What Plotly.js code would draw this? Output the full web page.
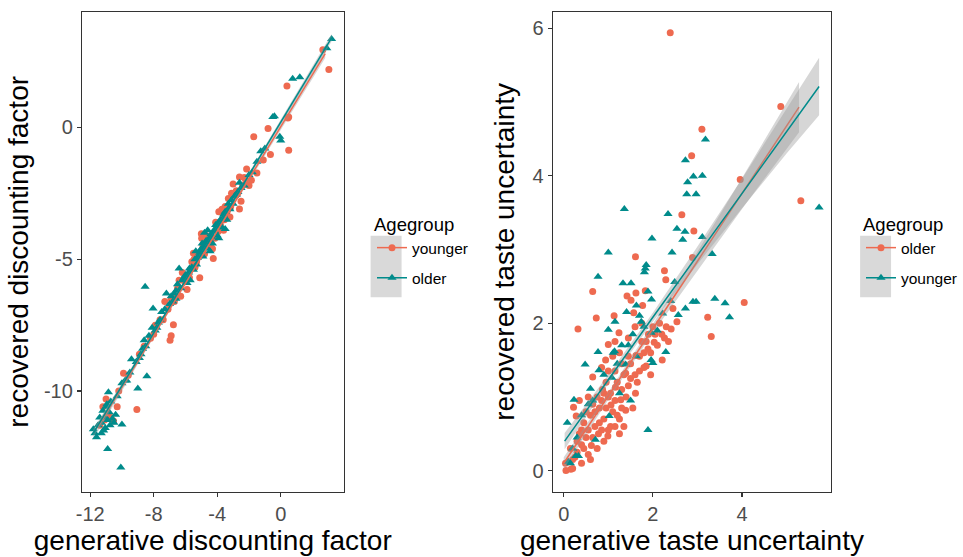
<!DOCTYPE html>
<html>
<head>
<meta charset="utf-8">
<script src="https://cdn.plot.ly/plotly-3.0.1.min.js"></script>
<style>html,body{margin:0;padding:0;background:#fff}#chart{width:963px;height:557px}</style>
</head>
<body>
<div id="chart"></div>
<script>
// ---------- DATA ----------
// Left panel: discounting factor (younger = salmon circles, older = teal triangles)
const leftYoungX = [-11.2,-11.0,-10.9,-10.7,-10.53,-11.1,-9.9,-9.06,-9.6,-8.9,-8.2,-7.9,-7.6,-7.3,-6.97,-6.9,-6.76,-6.9,-6.6,-6.4,-6.3,-6.2,-6.0,-5.9,-5.7,-5.5,-5.4,-5.1,-5.2,-5.0,-4.98,-4.8,-4.7,-4.5,-4.25,-4.3,-4.1,-4.0,-3.9,-3.8,-3.6,-3.5,-3.4,-3.3,-3.2,-3.0,-2.9,-2.8,-2.6,-2.6,-2.5,-2.4,-2.3,-2.15,-2.0,-1.85,-1.7,-1.5,-1.1,-0.8,-0.65,0.45,0.5,0.5,0.39,2.65,3.03,-3.7,-4.9,-5.6,-3.1,-6.5,-7.1,-8.6,-10.2,-11.4,-10.3,-6.7,-6.05,-5.75,-5.3,-4.6,-4.4,-3.95,-3.55,-3.15,-2.7,-2.2,-7.4,-8.0,-5.45,-4.15,-3.35];
const leftYoungY = [-10.6,-10.3,-10.9,-11.0,-11.14,-11.1,-9.33,-10.7,-9.4,-8.6,-8.0,-7.5,-7.3,-6.6,-8.07,-7.9,-7.49,-6.5,-6.4,-5.8,-6.4,-5.5,-5.7,-6.15,-5.4,-4.77,-5.3,-5.7,-4.8,-4.03,-4.2,-4.8,-4.1,-4.3,-4.97,-4.6,-3.6,-3.9,-3.2,-3.7,-3.9,-3.0,-3.3,-2.7,-3.4,-2.15,-2.6,-2.4,-1.88,-3.09,-2.8,-2.2,-1.9,-1.58,-2.2,-2.0,-0.35,-1.73,-1.24,-0.04,-1.03,0.36,0.4,-0.87,1.57,2.95,2.2,-3.1,-4.5,-5.1,-2.5,-6.1,-6.9,-8.3,-10.0,-11.3,-10.6,-6.6,-5.85,-5.7,-5.1,-4.45,-4.4,-3.95,-3.5,-3.0,-2.5,-2.0,-7.3,-7.85,-5.0,-4.2,-3.15];
const leftOldX = [-11.8,-11.7,-11.6,-11.5,-11.4,-11.3,-11.2,-11.1,-11.05,-11.0,-10.9,-10.85,-10.8,-10.75,-10.6,-10.5,-10.4,-10.0,-10.9,-10.07,-11.3,-11.15,-10.95,-10.3,-10.0,-9.7,-9.4,-9.0,-9.5,-9.1,-8.9,-8.6,-8.43,-8.7,-8.5,-8.3,-8.54,-8.04,-8.1,-7.9,-7.7,-7.5,-7.3,-7.2,-7.0,-6.9,-6.8,-6.6,-6.5,-6.4,-6.3,-6.2,-6.0,-5.9,-5.8,-5.6,-5.5,-5.4,-5.3,-5.2,-5.1,-5.0,-4.9,-4.8,-4.7,-4.6,-4.5,-4.4,-4.3,-4.2,-4.1,-4.0,-3.9,-3.8,-3.7,-3.6,-3.5,-3.4,-3.3,-3.2,-3.1,-3.0,-2.9,-2.7,-2.5,-2.3,-2.0,-1.8,-1.5,-1.26,-1.0,-0.5,-0.4,-0.06,0.0,0.75,1.2,3.2,2.9,-4.6,-4.45,-3.9,-5.7,-4.8,-3.5,-6.6,-7.6,-2.6,-4.95,-5.35,-6.7,-6.1,-5.75,-5.25,-4.65,-4.35,-3.95,-3.65,-3.25,-2.8,-7.8,-8.8,-9.8,-10.7,-5.05,-4.15];
const leftOldY = [-11.45,-11.6,-11.75,-11.3,-11.0,-11.2,-10.75,-11.0,-11.4,-10.6,-11.1,-10.05,-10.8,-11.3,-11.05,-11.2,-10.9,-11.27,-12.2,-12.9,-11.6,-11.5,-10.5,-10.2,-9.7,-9.6,-8.79,-9.9,-9.3,-8.9,-8.75,-8.07,-9.44,-8.4,-8.3,-7.9,-6.04,-6.87,-7.6,-7.7,-7.4,-7.0,-6.9,-6.3,-6.7,-6.4,-6.6,-6.2,-5.95,-5.35,-6.1,-5.8,-5.6,-5.9,-5.5,-5.3,-5.4,-5.0,-5.2,-4.9,-4.75,-4.6,-4.9,-4.5,-4.3,-4.6,-4.2,-4.05,-4.4,-3.9,-3.7,-4.1,-3.6,-3.5,-3.8,-3.3,-3.2,-3.5,-2.9,-3.1,-2.75,-2.9,-2.6,-2.45,-2.3,-2.2,-1.8,-1.7,-1.3,-0.9,-0.8,0.4,0.42,-0.35,-0.5,1.85,1.9,3.35,3.0,-3.9,-4.7,-4.2,-5.8,-4.0,-3.85,-6.5,-7.3,-2.1,-4.4,-4.7,-6.3,-5.7,-5.35,-4.95,-4.35,-4.15,-3.75,-3.45,-3.05,-2.55,-7.6,-8.6,-9.6,-10.4,-4.65,-3.95];

// Left panel smooth fits
const leftYoungFitX = [-11.5,-8,-4,0,2.8];
const leftYoungFitY = [-11.35,-7.89,-3.93,0.03,2.8];
const leftYoungFitLo = [-11.53,-7.97,-3.99,-0.07,2.63];
const leftYoungFitHi = [-11.17,-7.81,-3.87,0.13,2.97];
const leftOldFitX = [-11.8,-8,-4,0,3.2];
const leftOldFitY = [-11.6,-7.8,-3.8,0.2,3.4];
const leftOldFitLo = [-11.75,-7.87,-3.85,0.12,3.26];
const leftOldFitHi = [-11.45,-7.73,-3.75,0.28,3.54];

// Right panel: taste uncertainty (older = salmon circles, younger = teal triangles)
const rightOldX = [2.39,4.87,3.10,2.87,3.96,5.32,2.65,2.92,1.61,2.89,2.26,2.29,0.65,4.05,1.42,1.62,1.83,1.51,1.77,1.57,0.73,1.13,0.32,3.23,3.31,2.54,2.26,2.41,2.21,2.03,1.89,1.85,1.62,1.39,1.24,1.0,0.94,0.65,0.35,0.22,0.28,0.12,0.16,0.2,0.04,0.05,0.55,0.62,0.78,0.99,1.39,1.61,1.16,0.87,1.06,1.28,0.8,0.9,1.0,1.1,1.2,1.3,1.4,1.5,0.7,0.6,0.5,0.4,1.7,1.8,2.0,2.1,1.9,1.45,1.15,0.95,0.85,1.25,1.35,1.05,0.75,0.45,0.3,0.25,1.55,1.65,2.15,1.95,1.75,2.3,1.1,0.55,0.35,0.45,0.55,0.65,0.7,0.8,0.85,0.95,1.05,1.15,1.2,1.3,1.35,1.45,1.5,1.6,1.7,1.8,1.85,1.95,2.05,2.2,2.35,1.0,0.9,0.75,0.65,0.5,0.4,0.3,0.2,0.15,1.25,1.45,1.6,1.3,0.85,1.15,1.75,2.45,1.0,1.15,1.25,0.9,0.6,0.4];
const rightOldY = [5.94,4.94,4.63,4.27,3.95,3.66,3.47,3.25,2.9,2.89,2.71,2.59,2.43,2.28,2.37,2.41,2.44,2.31,2.24,2.14,2.07,2.1,1.92,2.08,1.82,2.02,1.8,1.92,1.5,1.74,1.65,1.42,1.56,1.32,1.87,1.71,1.5,1.27,0.95,0.86,0.74,0.12,0.02,0.03,0.1,0.0,0.22,0.34,0.5,0.47,0.82,1.05,1.13,1.1,0.89,0.96,0.85,0.7,1.0,0.8,1.2,1.1,1.0,1.25,0.6,0.75,0.45,0.55,1.35,1.6,1.95,1.7,1.85,1.55,1.35,1.2,0.95,0.7,0.6,0.6,0.3,0.3,0.4,0.18,0.85,1.2,2.0,1.3,1.75,1.95,1.55,1.0,0.5,0.65,0.55,0.45,0.8,0.65,0.55,0.85,1.05,0.95,0.75,0.85,1.3,1.15,1.45,1.3,1.55,1.4,1.75,1.6,1.85,1.85,1.75,1.35,1.05,1.0,0.9,0.8,0.35,0.25,0.15,0.3,1.6,1.8,1.95,1.45,1.4,1.75,2.0,2.2,0.55,0.6,0.5,0.4,0.15,0.1];
const rightYoungX = [3.18,2.73,2.78,2.91,3.11,2.76,2.97,1.36,5.73,2.34,2.54,2.72,2.67,1.98,3.11,1.0,2.43,3.33,0.77,1.33,1.51,1.85,1.83,1.81,1.89,1.97,2.49,2.9,2.97,3.39,3.62,3.72,2.73,2.57,2.22,1.15,1.0,1.41,1.63,1.74,1.96,0.77,0.48,2.29,1.96,2.0,1.11,1.14,1.63,0.23,0.6,1.5,1.89,0.08,0.33,0.27,0.71,0.1,0.15,1.02,0.79,1.39,1.08,0.55,0.9,1.2,1.3,1.55,1.7,1.8,0.4,0.3,0.2,0.65,1.25,1.45,2.1,2.4];
const rightYoungY = [4.49,4.21,3.91,3.99,4.0,3.75,3.75,3.55,3.57,3.48,3.28,3.24,3.13,3.15,3.17,2.96,2.96,2.94,2.63,2.54,2.54,2.79,2.74,2.69,2.43,2.32,2.56,2.29,2.29,2.33,2.27,2.08,2.2,2.11,2.13,2.02,1.91,2.15,2.24,2.02,1.87,1.61,1.44,1.61,1.5,1.46,1.6,1.62,1.55,0.96,1.11,0.95,0.55,0.65,0.2,0.2,0.42,0.12,0.1,0.74,1.36,1.44,1.26,0.9,1.3,1.45,1.7,1.85,2.1,1.95,0.75,0.45,0.3,0.95,1.05,1.7,1.9,2.3];

// Right panel smooth fits
const rightOldFitX = [0.0,1,2,3,4,5.28];
const rightOldFitY = [0.1,1.01,1.93,2.84,3.76,4.93];
const rightOldFitLo = [0.02,0.96,1.87,2.71,3.55,4.59];
const rightOldFitHi = [0.18,1.06,1.99,2.97,3.97,5.27];
const rightYoungFitX = [0.02,1,2,3,4,5,5.73];
const rightYoungFitY = [0.4,1.24,2.08,2.92,3.76,4.6,5.21];
const rightYoungFitLo = [0.29,1.18,2.02,2.8,3.56,4.3,4.82];
const rightYoungFitHi = [0.51,1.30,2.14,3.04,3.96,4.9,5.6];

const leftLegendLabels = ["younger","older"];
const rightLegendLabels = ["older","younger"];

// ---------- STYLE ----------
const SALMON = "#EE6A50";
const TEAL = "#008B8B";
const BAND = "rgba(153,153,153,0.4)";
const FONT = "Liberation Sans, Arial, sans-serif";
const CIRC = 7, TRI = 8;

function pts(x, y, color, symbol, size, xa, ya) {
  return {type:"scatter", mode:"markers", x:x, y:y, xaxis:xa, yaxis:ya,
    marker:{color:color, symbol:symbol, size:size, line:{width:0}},
    showlegend:false, hoverinfo:"skip"};
}
function band(x, lo, hi, xa, ya) {
  return [
    {type:"scatter", mode:"lines", x:x, y:lo, xaxis:xa, yaxis:ya, line:{width:0, color:BAND}, showlegend:false, hoverinfo:"skip"},
    {type:"scatter", mode:"lines", x:x, y:hi, xaxis:xa, yaxis:ya, line:{width:0, color:BAND}, fill:"tonexty", fillcolor:BAND, showlegend:false, hoverinfo:"skip"}
  ];
}
function fitLine(x, y, color, xa, ya) {
  return {type:"scatter", mode:"lines", x:x, y:y, xaxis:xa, yaxis:ya, line:{color:color, width:1.5}, showlegend:false, hoverinfo:"skip"};
}
function legendItem(name, color, symbol, size, leg, xa, ya) {
  return {type:"scatter", mode:"lines+markers", x:[null], y:[null], xaxis:xa, yaxis:ya, name:name,
    line:{color:color, width:1.5}, marker:{color:color, symbol:symbol, size:size},
    legend:leg, legendgroup:leg+name, showlegend:true, hoverinfo:"skip"};
}

const traces = [
  pts(leftYoungX, leftYoungY, SALMON, "circle", CIRC, "x", "y"),
  pts(leftOldX, leftOldY, TEAL, "triangle-up", TRI, "x", "y"),
  ...band(leftYoungFitX, leftYoungFitLo, leftYoungFitHi, "x", "y"),
  fitLine(leftYoungFitX, leftYoungFitY, SALMON, "x", "y"),
  ...band(leftOldFitX, leftOldFitLo, leftOldFitHi, "x", "y"),
  fitLine(leftOldFitX, leftOldFitY, TEAL, "x", "y"),
  legendItem(leftLegendLabels[0], SALMON, "circle", CIRC, "legend", "x", "y"),
  legendItem(leftLegendLabels[1], TEAL, "triangle-up", TRI, "legend", "x", "y"),

  pts(rightOldX, rightOldY, SALMON, "circle", CIRC, "x2", "y2"),
  pts(rightYoungX, rightYoungY, TEAL, "triangle-up", TRI, "x2", "y2"),
  ...band(rightOldFitX, rightOldFitLo, rightOldFitHi, "x2", "y2"),
  fitLine(rightOldFitX, rightOldFitY, SALMON, "x2", "y2"),
  ...band(rightYoungFitX, rightYoungFitLo, rightYoungFitHi, "x2", "y2"),
  fitLine(rightYoungFitX, rightYoungFitY, TEAL, "x2", "y2"),
  legendItem(rightLegendLabels[0], SALMON, "circle", CIRC, "legend2", "x2", "y2"),
  legendItem(rightLegendLabels[1], TEAL, "triangle-up", TRI, "legend2", "x2", "y2")
];

const W = 963, H = 557;
const axCommon = {
  showgrid:false, zeroline:false, showline:true, mirror:true, linecolor:"#333333", linewidth:1.1,
  ticks:"outside", ticklen:4, tickwidth:1.1, tickcolor:"#333333",
  tickfont:{family:FONT, size:20, color:"#4D4D4D"}, fixedrange:true
};
const yDom = [1-492/H, 1-11.7/H];
const TITLE_FONT = {family:FONT, size:28, color:"#000"};

const legCommon = {
  bgcolor:"rgba(0,0,0,0)", borderwidth:0, font:{family:FONT, size:15.5, color:"#000"},
  itemwidth:30, tracegroupgap:7, xanchor:"left", yanchor:"top", traceorder:"grouped"
};

const layout = {
  width:W, height:H, margin:{l:0, r:0, t:0, b:0},
  paper_bgcolor:"#fff", plot_bgcolor:"#fff",
  font:{family:FONT},
  showlegend:true,
  xaxis: Object.assign({}, axCommon, {domain:[82/W, 344/W], range:[-12.52, 3.96], tickvals:[-12,-8,-4,0], ticktext:["-12","-8","-4","0"], anchor:"y",
    title:{text:"generative discounting factor", font:TITLE_FONT, standoff:3}}),
  yaxis: Object.assign({}, axCommon, {domain:yDom, range:[-13.83, 4.39], tickvals:[-10,-5,0], ticktext:["-10","-5","0"], anchor:"x",
    title:{text:"recovered discounting factor", font:TITLE_FONT, standoff:7}}),
  xaxis2: Object.assign({}, axCommon, {domain:[553.3/W, 832/W], range:[-0.247, 6.0], tickvals:[0,2,4], anchor:"y2",
    title:{text:"generative taste uncertainty", font:TITLE_FONT, standoff:3}}),
  yaxis2: Object.assign({}, axCommon, {domain:yDom, range:[-0.29, 6.225], tickvals:[0,2,4,6], anchor:"x2",
    title:{text:"recovered taste uncertainty", font:TITLE_FONT, standoff:9}}),
  legend: Object.assign({}, legCommon, {x:372/W, y:1-207/H, title:{text:"Agegroup", font:{family:FONT, size:18.5, color:"#000"}}}),
  legend2: Object.assign({}, legCommon, {x:862/W, y:1-207/H, title:{text:"Agegroup", font:{family:FONT, size:18.5, color:"#000"}}}),
  shapes: [
    {type:"rect", xref:"paper", yref:"paper", x0:371/W, x1:402/W, y0:1-297.3/H, y1:1-235.7/H, fillcolor:"#D9D9D9", line:{width:0}, layer:"above"},
    {type:"rect", xref:"paper", yref:"paper", x0:861/W, x1:892/W, y0:1-297.3/H, y1:1-235.7/H, fillcolor:"#D9D9D9", line:{width:0}, layer:"above"}
  ]
};

Plotly.newPlot("chart", traces, layout, {staticPlot:true, displayModeBar:false});
</script>
</body>
</html>
